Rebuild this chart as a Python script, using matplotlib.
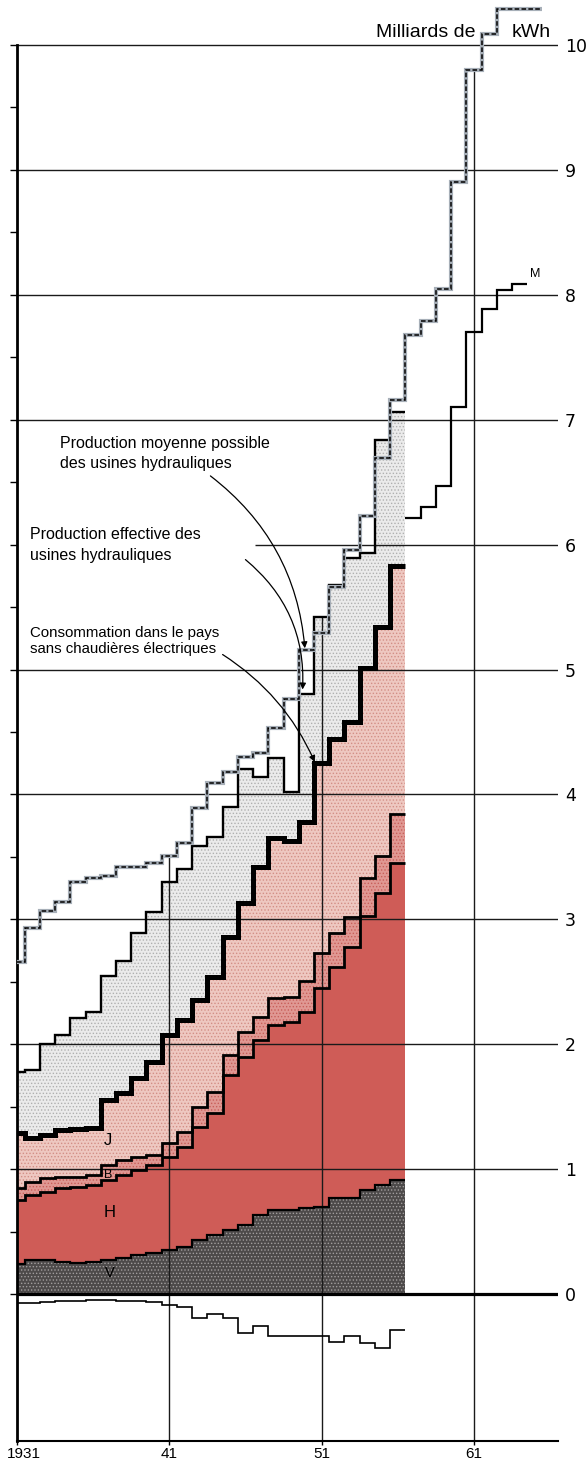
import matplotlib.pyplot as plt
import numpy as np
from matplotlib.transforms import ScaledTranslation

# one value per (hydrological) year, in milliards de kWh
years = np.arange(1931, 1957)
years_long = np.arange(1931, 1966)
years_m = np.arange(1957, 1965)

v_top = [0.24, 0.27, 0.27, 0.26, 0.25, 0.26, 0.27, 0.29, 0.31, 0.33, 0.35, 0.38, 0.43,
         0.47, 0.51, 0.55, 0.63, 0.67, 0.67, 0.69, 0.70, 0.77, 0.77, 0.83, 0.87, 0.91]
h_top = [0.75, 0.79, 0.82, 0.85, 0.86, 0.87, 0.91, 0.95, 0.99, 1.03, 1.10, 1.18, 1.34,
         1.45, 1.75, 1.90, 2.03, 2.15, 2.18, 2.26, 2.45, 2.62, 2.78, 3.03, 3.21, 3.45]
b_top = [0.85, 0.90, 0.93, 0.94, 0.94, 0.95, 1.03, 1.07, 1.10, 1.11, 1.21, 1.30, 1.50,
         1.62, 1.91, 2.10, 2.22, 2.37, 2.38, 2.51, 2.73, 2.89, 3.02, 3.33, 3.51, 3.84]
conso = [1.29, 1.25, 1.27, 1.31, 1.32, 1.33, 1.55, 1.61, 1.73, 1.86, 2.07, 2.19, 2.35,
         2.54, 2.86, 3.13, 3.42, 3.65, 3.63, 3.78, 4.25, 4.44, 4.58, 5.01, 5.34, 5.83]
prod_eff = [1.78, 1.79, 2.00, 2.07, 2.21, 2.26, 2.55, 2.67, 2.89, 3.06, 3.30, 3.40, 3.59,
            3.66, 3.90, 4.20, 4.14, 4.29, 4.02, 4.80, 5.42, 5.68, 5.89, 5.93, 6.84, 7.06]
prod_moy = [2.66, 2.93, 3.07, 3.14, 3.30, 3.33, 3.35, 3.42, 3.42, 3.45, 3.51, 3.61, 3.89,
            4.09, 4.18, 4.30, 4.33, 4.53, 4.76, 5.16, 5.29, 5.66, 5.96, 6.23, 6.69, 7.16,
            7.68, 7.79, 8.05, 8.90, 9.80, 10.09, 10.29, 10.29, 10.29]
m_line = [6.21, 6.30, 6.47, 7.10, 7.70, 7.89, 8.04, 8.09]
solde = [-0.075, -0.07, -0.065, -0.06, -0.055, -0.05, -0.045, -0.055, -0.06, -0.065,
         -0.085, -0.105, -0.19, -0.16, -0.195, -0.315, -0.255, -0.34, -0.34, -0.34,
         -0.34, -0.385, -0.335, -0.39, -0.435, -0.285]

grid_years = [1931, 1941, 1951, 1961]
grid_labels = ['1931', '41', '51', '61']

font = ['Liberation Sans', 'DejaVu Sans']
plt.rcParams['hatch.linewidth'] = 0.6


def step_edges(yrs):
    e = np.r_[np.asarray(yrs) - 0.5, yrs[-1] + 0.5].astype(float)
    e[0] = max(e[0], 1931)
    return e


ed = step_edges(years)

fig = plt.figure(figsize=(5.88, 14.61), dpi=100)
ax = fig.add_axes([17 / 588, 20 / 1461, 541 / 588, 1439.7 / 1461])
ax.set_xlim(1931, 1931 + 541 / 15.23)
ax.set_ylim(-1.177, 10.35)

# filled bands (stippled like the print)
ax.stairs(v_top, ed, baseline=0, fill=True, facecolor='#4d4a4a', edgecolor='#a29e9e',
          hatch='.....', lw=0, zorder=1)
ax.stairs(h_top, ed, baseline=v_top, fill=True, facecolor='#cf5c57', edgecolor='#cf5c57',
          lw=0, zorder=1)
ax.stairs(b_top, ed, baseline=h_top, fill=True, facecolor='#e09893', edgecolor='#c85f59',
          hatch='.....', lw=0, zorder=1)
ax.stairs(conso, ed, baseline=b_top, fill=True, facecolor='#eec8c1', edgecolor='#d38f86',
          hatch='.....', lw=0, zorder=1)
ax.stairs(prod_eff, ed, baseline=conso, fill=True, facecolor='#ebebeb', edgecolor='#b0b0b0',
          hatch='.....', lw=0, zorder=1)

# grid
x_end = ax.get_xlim()[1]
for v in range(1, 11):
    x0 = 1946.6 if v == 6 else 1931
    ax.hlines(v, x0, x_end, color='#1a1a1a', lw=1.0, zorder=2)
ax.hlines(0, 1931, x_end, color='black', lw=2.3, zorder=4)
for yr in grid_years[1:]:
    i = yr - 1931
    top = prod_moy[i]
    if i < len(prod_eff):
        top = max(top, prod_eff[i])
    ax.vlines(yr, -1.2, top, color='#1a1a1a', lw=1.0, zorder=2)

# lines
ax.stairs(v_top, ed, baseline=None, color='black', lw=1.6, zorder=3)
ax.stairs(h_top, ed, baseline=None, color='black', lw=2.0, zorder=3)
ax.stairs(b_top, ed, baseline=None, color='black', lw=2.0, zorder=3)
ax.stairs(conso, ed, baseline=None, color='black', lw=3.6, zorder=3)
ax.stairs(prod_eff, ed, baseline=None, color='black', lw=1.7, zorder=3)
ed_long = step_edges(years_long)
ax.stairs(prod_moy, ed_long, baseline=None, color='#a7afb8', lw=3.0, zorder=3)
ax.stairs(prod_moy, ed_long, baseline=None, color='black', lw=1.1, ls=(0, (3, 1.5)), zorder=3)
ax.stairs(m_line, step_edges(years_m), baseline=None, color='black', lw=1.6, zorder=3)
ax.stairs(solde, ed, baseline=None, color='black', lw=1.2, zorder=3)

# axes styling
for s in ['top', 'right']:
    ax.spines[s].set_visible(False)
ax.spines['left'].set_linewidth(2.0)
ax.spines['left'].set_bounds(-1.177, 10)
ax.spines['bottom'].set_linewidth(1.5)

ax.set_yticks(range(0, 11))
ax.set_yticks(np.arange(0.5, 10, 1.0), minor=True)
ax.tick_params(axis='y', which='both', left=True, right=False, labelleft=False,
               labelright=True, direction='out', length=5, width=1, pad=0, labelsize=12.5)
ax.set_xticks(grid_years, grid_labels)
ax.tick_params(axis='x', direction='out', length=3, width=1, pad=1)
for lab in ax.get_xticklabels():
    lab.set_family(font)
    lab.set_fontsize(11)
first = ax.get_xticklabels()[0]
first.set_transform(first.get_transform() + ScaledTranslation(0.07, 0, fig.dpi_scale_trans))

# texts
ax.text(1961.1, 10.1, 'Milliards de', ha='right', va='center', fontsize=14, family=font)
ax.text(1963.5, 10.1, 'kWh', ha='left', va='center', fontsize=14, family=font)

ax.text(1933.8, 6.87, 'Production moyenne possible\ndes usines hydrauliques', ha='left',
        va='top', fontsize=11.5, family=font, linespacing=1.45)
ax.text(1931.85, 6.14, 'Production effective des\nusines hydrauliques', ha='left',
        va='top', fontsize=11.5, family=font, linespacing=1.45)
ax.text(1931.85, 5.35, 'Consommation dans le pays\nsans chaudières électriques', ha='left',
        va='top', fontsize=10.8, family=font, linespacing=1.2)

arrow = dict(arrowstyle='-|>', color='black', lw=0.9, mutation_scale=9, shrinkA=0, shrinkB=0)
ax.annotate('', xy=(1949.9, 5.17), xytext=(1943.7, 6.55),
            arrowprops=dict(arrow, connectionstyle='arc3,rad=-0.22'))
ax.annotate('', xy=(1949.75, 4.84), xytext=(1946.0, 5.88),
            arrowprops=dict(arrow, connectionstyle='arc3,rad=-0.25'))
ax.annotate('', xy=(1950.55, 4.26), xytext=(1944.5, 5.12),
            arrowprops=dict(arrow, connectionstyle='arc3,rad=-0.15'))

ax.text(1937.0, 1.23, 'J', ha='center', va='center', fontsize=12, family=font)
ax.text(1937.0, 0.95, 'B', ha='center', va='center', fontsize=9, family=font)
ax.text(1937.1, 0.65, 'H', ha='center', va='center', fontsize=12, family=font)
ax.text(1937.1, 0.17, 'V', ha='center', va='center', fontsize=10.5, family=font)
ax.text(1965.0, 8.17, 'M', ha='center', va='center', fontsize=9, family=font)

fig.savefig('out.png', dpi=100)
